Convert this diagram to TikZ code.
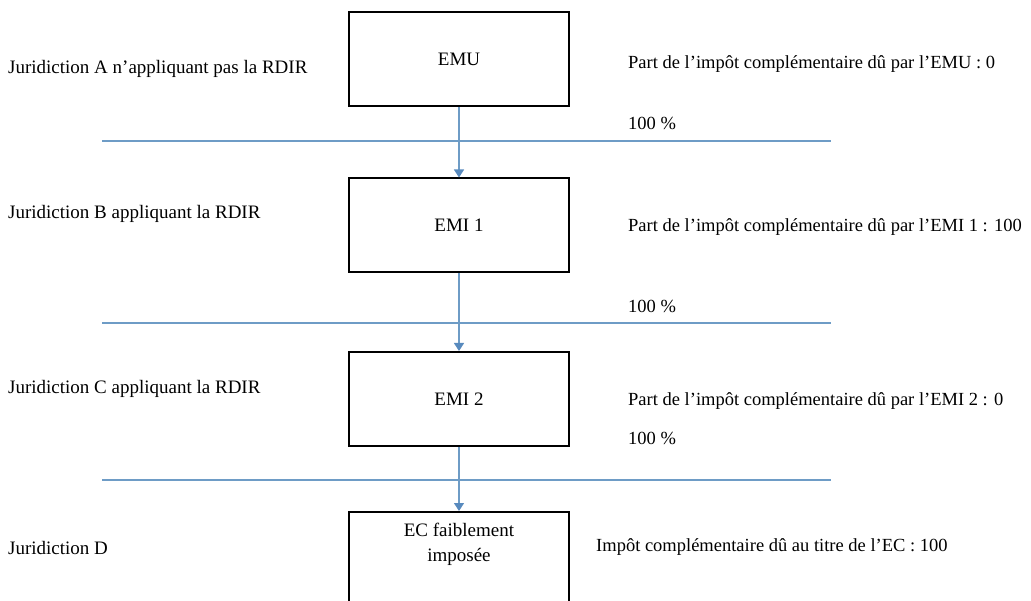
\documentclass[tikz,border=0pt]{standalone}
\usepackage{fontspec}
\setmainfont{Liberation Serif}
\usetikzlibrary{arrows.meta}
\definecolor{linkblue}{RGB}{110,156,198}
\definecolor{tipblue}{RGB}{88,138,190}
\tikzset{
  entity/.style={draw=black, line width=2pt, minimum width=220pt, minimum height=94pt,
    inner sep=0pt, align=center, font=\fontsize{19}{25}\selectfont},
  boxlabel/.style={inner sep=0pt, align=center, font=\fontsize{19}{25}\selectfont},
  txt/.style={anchor=west, inner sep=0pt, font=\fontsize{19}{24}\selectfont},
  note/.style={anchor=west, inner sep=0pt, font=\fontsize{18.5}{24}\selectfont},
  flow/.style={draw=linkblue, line width=1.2pt,
    -{Triangle[length=8pt,width=10pt,fill=tipblue,color=tipblue]}},
  divider/.style={draw=linkblue, line width=1.2pt}
}
\begin{document}
\begin{tikzpicture}[x=1pt,y=-1pt]
  \useasboundingbox (0,0) rectangle (1031,601);
  \fill[white] (0,0) rectangle (1031,601);

  % layer dividers
  \coordinate (d1l) at (102,141); \coordinate (d1r) at (831,141);
  \coordinate (d2l) at (102,323); \coordinate (d2r) at (831,323);
  \coordinate (d3l) at (102,480); \coordinate (d3r) at (831,480);
  \draw[divider] (d1l) -- (d1r);
  \draw[divider] (d2l) -- (d2r);
  \draw[divider] (d3l) -- (d3r);

  % entities
  \node[entity] (emu) at (459,59) {EMU};
  \node[entity] (emi1) at (459,225.5) {EMI 1};
  \node[entity] (emi2) at (459,399) {EMI 2};
  \node[entity] (ec) at (459,559) {};
  \node[boxlabel] (ecl) at (459,544) {EC faiblement\\imposée};

  % ownership links
  \draw[flow] (emu.south) -- (emi1.north);
  \draw[flow] (emi1.south) -- (emi2.north);
  \draw[flow] (emi2.south) -- (ec.north);

  % jurisdictions
  \node[txt] (ja) at (8,69) {Juridiction A n’appliquant pas la RDIR};
  \node[txt] (jb) at (8,214) {Juridiction B appliquant la RDIR};
  \node[txt] (jc) at (8,389) {Juridiction C appliquant la RDIR};
  \node[txt] (jd) at (8,548) {Juridiction D};

  % tax shares and holdings
  \node[note] (pemu) at (628,64) {Part de l’impôt complémentaire dû par l’EMU : 0};
  \node[note] (h1) at (628,123) {100 \%};
  \node[note] (pemi1) at (628,227) {Part de l’impôt complémentaire dû par l’EMI 1 : 100};
  \node[note] (h2) at (628,306) {100 \%};
  \node[note] (pemi2) at (628,401) {Part de l’impôt complémentaire dû par l’EMI 2 : 0};
  \node[note] (h3) at (628,438) {100 \%};
  \node[note] (pec) at (596,547) {Impôt complémentaire dû au titre de l’EC : 100};
\end{tikzpicture}
\end{document}
